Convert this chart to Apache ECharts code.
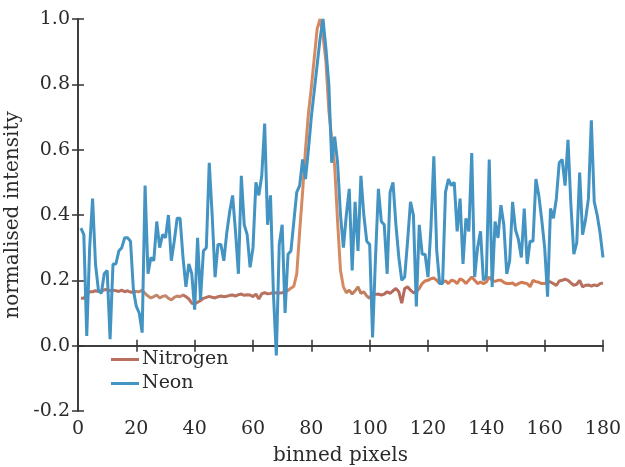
<!DOCTYPE html>
<html><head><meta charset="utf-8">
<script src="https://cdn.jsdelivr.net/npm/echarts@6/dist/echarts.min.js"></script>
<style>html,body{margin:0;padding:0;background:#fff}#c{width:625px;height:467px}</style>
</head><body><div id="c"></div>
<script>
// binned pixel index 1..180
const nitrogen = [
0.145,0.145,0.158,0.165,0.165,0.168,0.166,0.167,0.171,0.172,
0.168,0.170,0.168,0.166,0.170,0.165,0.168,0.164,0.163,0.166,
0.165,0.170,0.160,0.152,0.146,0.150,0.155,0.146,0.151,0.153,
0.145,0.140,0.148,0.152,0.150,0.155,0.150,0.143,0.130,0.128,
0.133,0.138,0.145,0.148,0.151,0.148,0.146,0.150,0.152,0.150,
0.151,0.154,0.155,0.152,0.156,0.158,0.154,0.156,0.155,0.150,
0.158,0.143,0.159,0.162,0.159,0.160,0.163,0.161,0.161,0.162,
0.165,0.169,0.176,0.182,0.220,0.350,0.470,0.600,0.710,0.790,
0.880,0.970,1.000,0.950,0.870,0.720,0.630,0.550,0.380,0.230,
0.180,0.162,0.170,0.158,0.168,0.180,0.160,0.165,0.152,0.145,
0.160,0.157,0.158,0.155,0.158,0.165,0.160,0.168,0.175,0.165,
0.130,0.175,0.180,0.170,0.162,0.165,0.175,0.190,0.198,0.200,
0.205,0.207,0.200,0.190,0.196,0.198,0.190,0.200,0.198,0.190,
0.205,0.200,0.190,0.200,0.210,0.200,0.190,0.195,0.190,0.195,
0.210,0.200,0.197,0.200,0.200,0.194,0.190,0.190,0.192,0.185,
0.190,0.194,0.192,0.190,0.180,0.200,0.196,0.194,0.190,0.190,
0.197,0.195,0.190,0.184,0.198,0.200,0.204,0.200,0.192,0.185,
0.188,0.200,0.180,0.185,0.186,0.182,0.186,0.183,0.190,0.192
];
const neon = [
0.36,0.34,0.03,0.30,0.45,0.25,0.17,0.16,0.22,0.23,
0.02,0.25,0.25,0.29,0.30,0.33,0.33,0.32,0.17,0.12,
0.10,0.04,0.49,0.22,0.27,0.26,0.38,0.30,0.34,0.33,
0.40,0.26,0.32,0.39,0.39,0.27,0.18,0.25,0.22,0.11,
0.33,0.14,0.29,0.30,0.56,0.40,0.21,0.31,0.31,0.26,
0.345,0.41,0.46,0.35,0.22,0.52,0.37,0.34,0.24,0.30,
0.50,0.46,0.52,0.68,0.37,0.46,0.16,-0.03,0.31,0.37,
0.10,0.28,0.29,0.38,0.47,0.49,0.57,0.51,0.60,0.70,
0.78,0.86,0.94,1.00,0.91,0.80,0.56,0.64,0.56,0.40,
0.30,0.40,0.48,0.23,0.44,0.29,0.52,0.40,0.32,0.31,
0.025,0.27,0.48,0.38,0.37,0.22,0.47,0.50,0.37,0.27,
0.20,0.21,0.32,0.44,0.40,0.12,0.37,0.28,0.28,0.21,
0.36,0.58,0.29,0.19,0.19,0.47,0.51,0.49,0.50,0.35,
0.45,0.25,0.39,0.35,0.59,0.21,0.30,0.35,0.20,0.21,
0.57,0.18,0.38,0.33,0.43,0.37,0.22,0.26,0.44,0.355,
0.325,0.27,0.42,0.25,0.32,0.32,0.51,0.46,0.385,0.30,
0.15,0.42,0.39,0.45,0.56,0.57,0.49,0.63,0.43,0.28,
0.315,0.53,0.34,0.385,0.45,0.69,0.44,0.40,0.345,0.27
];
const xTicks = [0,20,40,60,80,100,120,140,160,180];
const yTicks = ['-0.2','0.0','0.2','0.4','0.6','0.8','1.0'];
const seriesNames = ['Nitrogen','Neon'];

const toPairs = arr => arr.map((v,i)=>[i+1,v]);
const FONT = 'DejaVu Serif';
const TXT = '#2b2b2b';
const AX = '#333333';
const common = {
  axisLine:{show:true,lineStyle:{color:AX,width:1.5}},
  axisTick:{show:true,inside:true,length:6,lineStyle:{color:AX,width:1.5}},
  splitLine:{show:false}
};
const chart = echarts.init(document.getElementById('c'),null,{renderer:'canvas'});
chart.setOption({
  animation:false,
  backgroundColor:'#fff',
  grid:{left:78,right:22,top:19,bottom:56,containLabel:false,outerBoundsMode:'none'},
  xAxis:[
    Object.assign({type:'value',min:0,max:180,interval:20,position:'bottom',
      name:'binned pixels',nameLocation:'middle',nameGap:35,
      nameTextStyle:{fontFamily:FONT,fontSize:20,color:TXT},
      axisLabel:{fontFamily:FONT,fontSize:19,color:TXT,margin:9}},common),
    Object.assign({type:'value',min:0,max:180,interval:20,position:'top',
      axisLabel:{show:false}},common)
  ],
  yAxis:[
    Object.assign({type:'value',min:-0.2,max:1.0,interval:0.2,position:'left',
      name:'normalised intensity',nameLocation:'middle',nameGap:47,
      nameTextStyle:{fontFamily:FONT,fontSize:20,color:TXT},
      axisLabel:{fontFamily:FONT,fontSize:19,color:TXT,margin:8,
        formatter:v=>{const s=v.toFixed(1);return s==='-0.0'?'0.0':s;}}},common),
    Object.assign({type:'value',min:-0.2,max:1.0,interval:0.2,position:'right',
      axisLabel:{show:false}},common)
  ],
  visualMap:[{
    type:'piecewise',show:false,seriesIndex:0,dimension:0,
    pieces:[
      {lt:20,color:'#b9705f'},
      {gte:20,lt:36,color:'#c4876a'},
      {gte:36,lt:72,color:'#b8725f'},
      {gte:72,lt:92,color:'#d58a62'},
      {gte:92,lt:100,color:'#c0805e'},
      {gte:100,lt:116,color:'#b76a5c'},
      {gte:116,lt:161,color:'#d17c55'},
      {gte:161,color:'#b8705f'}
    ]
  }],
  legend:{
    orient:'vertical',left:106,top:345,itemGap:5,itemWidth:28,itemHeight:3,
    icon:'rect',
    textStyle:{fontFamily:FONT,fontSize:19,color:TXT,padding:[0,0,0,-2]},
    data:[
      {name:seriesNames[0],itemStyle:{color:'#b9705f'}},
      {name:seriesNames[1],itemStyle:{color:'#4393c3'}}
    ]
  },
  series:[
    {name:seriesNames[0],type:'line',data:toPairs(nitrogen),showSymbol:false,
      lineStyle:{width:3},z:2},
    {name:seriesNames[1],type:'line',data:toPairs(neon),showSymbol:false,
      lineStyle:{width:3,color:'#4393c3'},itemStyle:{color:'#4393c3'},z:3}
  ]
});
</script></body></html>
